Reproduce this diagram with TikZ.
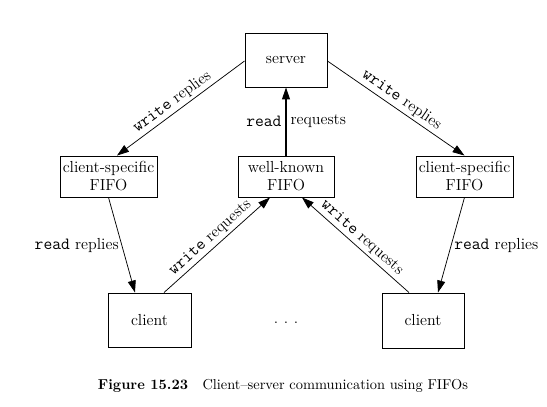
\documentclass[tikz,border=0pt]{standalone}
\usepackage{fontspec}
\usetikzlibrary{arrows.meta,calc}
\newcommand\mycmd[1]{{\ttfamily\fontsize{12.8}{13.5}\selectfont #1}}
\begin{document}
\begin{tikzpicture}[x=0.75pt,y=-0.75pt,
  box/.style={draw,line width=0.7pt,align=center,inner sep=0pt,font=\fontsize{12}{13.5}\selectfont},
  conn/.style={line width=0.55pt,-{Triangle[length=9pt,width=6pt]}},
  lab/.style={font=\fontsize{12}{13.5}\selectfont,inner sep=2pt}]
\useasboundingbox (0,0) rectangle (547,407);
\node[box,minimum width=61.5pt,minimum height=40.5pt] (server) at (286,60) {server};
\node[box,minimum width=72pt,minimum height=30.75pt] (wk) at (286,176.5) {well-known\\FIFO};
\node[box,minimum width=72.75pt,minimum height=30.75pt] (lf) at (108.5,176.5) {client-specific\\FIFO};
\node[box,minimum width=72.75pt,minimum height=30.75pt] (rf) at (464.5,176.5) {client-specific\\FIFO};
\node[box,minimum width=62.25pt,minimum height=40.5pt] (lc) at (149.5,320) {client};
\node[box,minimum width=61.5pt,minimum height=41.25pt] (rc) at (423,320.5) {client};
\node[lab,inner sep=0pt] (dots) at (286,323) {.\hspace{4.2pt}.\hspace{4.2pt}.};
\draw[conn] ($(server.west)+(0,1)$) -- node[lab,sloped,above,pos=0.52]{\mycmd{write} replies} ($(lf.north)+(8.5,0)$);
\draw[conn] ($(server.east)+(0,1)$) -- node[lab,sloped,above,pos=0.5]{\mycmd{write} replies} (rf.north);
\draw[conn,line width=0.8pt] (wk.north) -- node[lab,left,inner sep=3pt]{\mycmd{read}} node[lab,right,inner sep=3pt]{requests} (server.south);
\draw[conn] (lf.south) -- node[lab,left,inner sep=2pt]{\mycmd{read} replies} ($(lc.north)+(-14.5,0)$);
\draw[conn] (rf.south) -- node[lab,right,inner sep=2pt]{\mycmd{read} replies} ($(rc.north)+(15,0)$);
\draw[conn] ($(lc.north)+(14.5,0)$) -- node[lab,sloped,above]{\mycmd{write} requests} ($(wk.south)+(-16,0)$);
\draw[conn] ($(rc.north)+(-14,0)$) -- node[lab,sloped,above]{\mycmd{write} requests} ($(wk.south)+(16,0)$);
\node[font=\fontsize{10.8}{13}\selectfont] (cap) at (283,386) {\textbf{Figure 15.23}\quad Client--server communication using FIFOs};
\end{tikzpicture}
\end{document}
